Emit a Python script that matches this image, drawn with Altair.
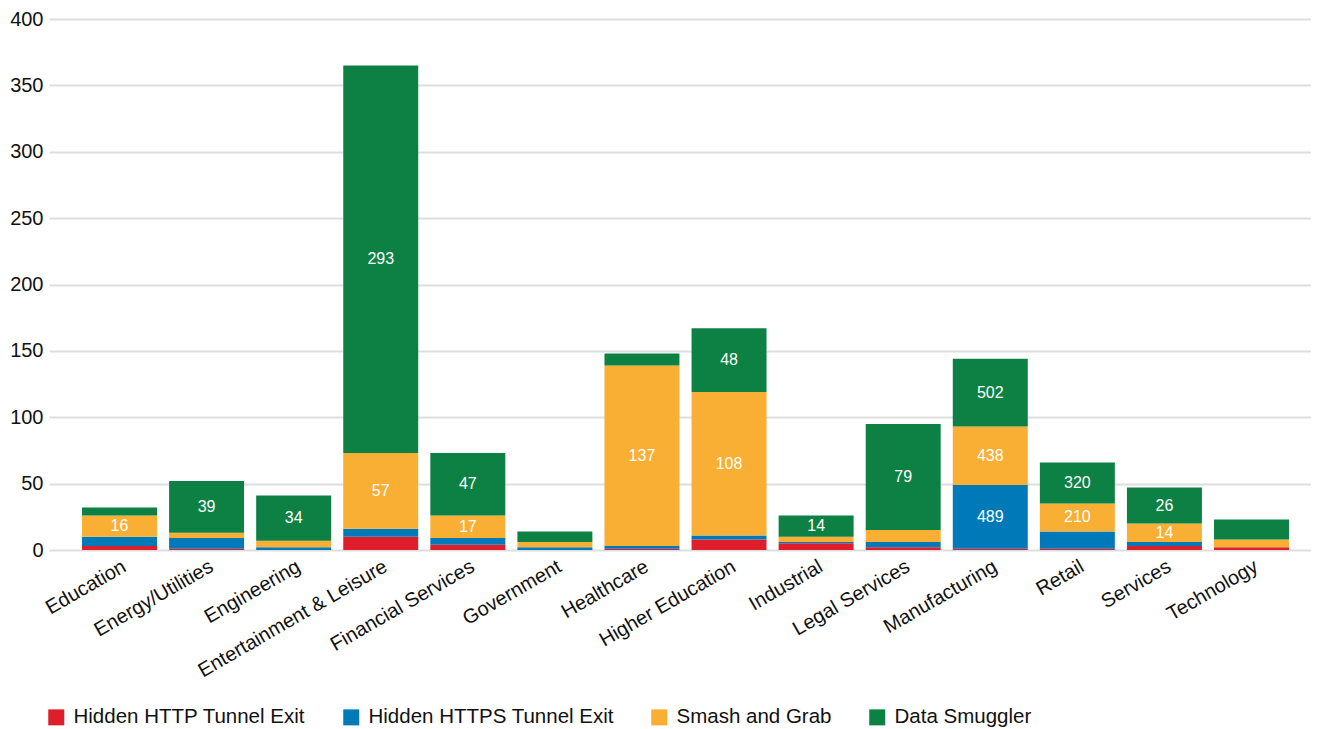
import altair as alt
import pandas as pd

categories = ["Education", "Energy/Utilities", "Engineering", "Entertainment & Leisure",
              "Financial Services", "Government", "Healthcare", "Higher Education",
              "Industrial", "Legal Services", "Manufacturing", "Retail", "Services", "Technology"]
series = ["Hidden HTTP Tunnel Exit", "Hidden HTTPS Tunnel Exit", "Smash and Grab", "Data Smuggler"]
colors = ["#DE1F2B", "#0079B9", "#F9AF33", "#0D8043"]

# bar heights as drawn
http_vals = [3, 1, 0, 10, 4, 0, 1, 8, 5, 2, 1, 1, 3, 2]
https_vals = [7, 8, 2, 6, 5, 2, 2, 3, 1, 4, 48, 13, 3, 0]
smash_vals = [16, 4, 5, 57, 17, 4, 136, 108, 4, 9, 44, 21, 14, 6]
smug_vals = [6, 39, 34, 292, 47, 8, 9, 48, 16, 80, 51, 31, 27, 15]

# labels printed inside segments
http_labels = ["", "", "", "", "", "", "", "", "", "", "", "", "", ""]
https_labels = ["", "", "", "", "", "", "", "", "", "", "489", "", "", ""]
smash_labels = ["16", "", "", "57", "17", "", "137", "108", "", "", "438", "210", "14", ""]
smug_labels = ["", "39", "34", "293", "47", "", "", "48", "14", "79", "502", "320", "26", ""]

y_ticks = [0, 50, 100, 150, 200, 250, 300, 350, 400]

FONT = "Liberation Sans"

rows = []
for si, (vals, labs) in enumerate(zip([http_vals, https_vals, smash_vals, smug_vals],
                                      [http_labels, https_labels, smash_labels, smug_labels])):
    for ci, cat in enumerate(categories):
        rows.append({"category": cat, "series": series[si], "order": si,
                     "value": vals[ci], "label": labs[ci]})
df = pd.DataFrame(rows)

base = alt.Chart(df).transform_stack(
    stack="value", groupby=["category"],
    sort=[alt.SortField("order", order="ascending")], as_=["y0", "y1"]
).transform_calculate(mid="(datum.y0 + datum.y1) / 2")

x_enc = alt.X("category:N", sort=categories, title=None,
              scale=alt.Scale(paddingInner=0.139, paddingOuter=0.316, align=0.6),
              axis=alt.Axis(labelAngle=-30, labelAlign="right", labelBaseline="top",
                            labelFontSize=20, labelPadding=6, ticks=False, domain=False,
                            labelColor="#111111", labelFont=FONT, labelLimit=400))

bars = base.mark_bar().encode(
    x=x_enc,
    y=alt.Y("y0:Q", title=None, scale=alt.Scale(domain=[0, 400]),
            axis=alt.Axis(values=y_ticks, ticks=False, domain=False, labelFontSize=20,
                          labelPadding=6, grid=True, gridColor="#DEDEDE", gridWidth=2,
                          labelColor="#111111", labelFont=FONT)),
    y2="y1:Q",
    color=alt.Color("series:N", scale=alt.Scale(domain=series, range=colors),
                    legend=alt.Legend(title=None, orient="none", legendX=-3, legendY=688,
                                      direction="horizontal", symbolType="square",
                                      symbolSize=256, symbolStrokeWidth=0, symbolOpacity=1,
                                      labelFontSize=20.5, labelOffset=7, columnPadding=35,
                                      labelLimit=400, labelFont=FONT, labelColor="#111111")),
)

text = base.transform_filter("datum.label != ''").mark_text(
    color="white", fontSize=16, font=FONT, baseline="middle", align="center"
).encode(
    x=alt.X("category:N", sort=categories, title=None),
    y=alt.Y("mid:Q", title=None),
    text="label:N",
)

chart = alt.layer(bars, text).properties(
    width=1262, height=531,
    autosize=alt.AutoSizeParams(type="none"),
    padding={"left": 41, "top": 11, "right": 0, "bottom": 179},
    background="white",
).configure_view(stroke=None)

chart.save("out.html", embed_options={"renderer": "svg", "actions": False})
